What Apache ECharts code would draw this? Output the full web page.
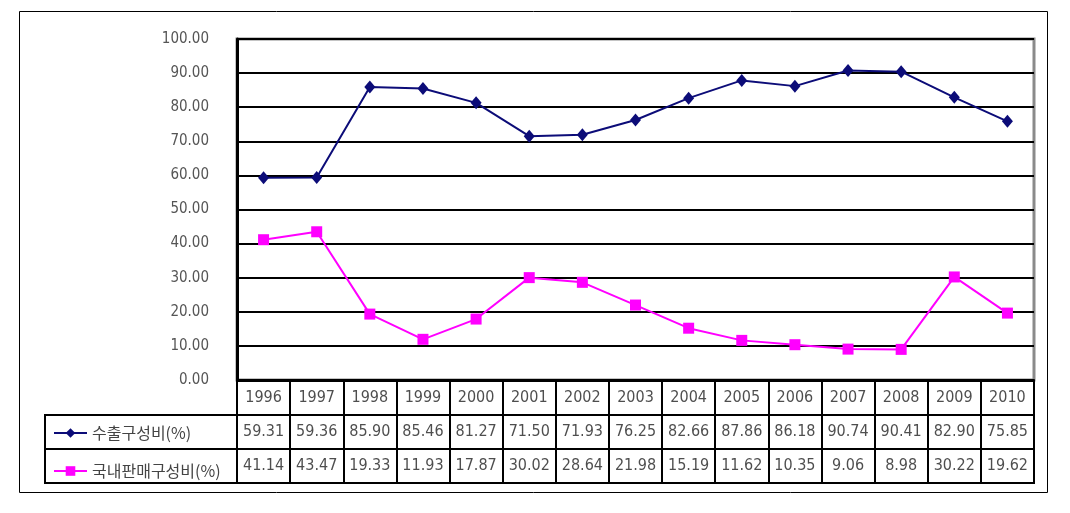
<!DOCTYPE html>
<html><head><meta charset="utf-8">
<script src="https://cdn.jsdelivr.net/npm/echarts@6/dist/echarts.min.js"></script>
<style>html,body{margin:0;padding:0;background:#fff}#c{width:1070px;height:513px}</style>
</head><body><div id="c"></div>
<script>
const years = ['1996','1997','1998','1999','2000','2001','2002','2003','2004','2005','2006','2007','2008','2009','2010'];
const exportShare = [59.31,59.36,85.90,85.46,81.27,71.50,71.93,76.25,82.66,87.86,86.18,90.74,90.41,82.90,75.85];
const domesticShare = [41.14,43.47,19.33,11.93,17.87,30.02,28.64,21.98,15.19,11.62,10.35,9.06,8.98,30.22,19.62];
const seriesNames = ['수출구성비(%)','국내판매구성비(%)'];
const yTicks = {min: 0, max: 100, interval: 10};

const NUMFONT = "'Liberation Sans Narrow','DejaVu Sans Condensed','Liberation Sans',sans-serif";
const tableText = [];
years.forEach((y, i) => {
  tableText.push([i, 0, y]);
  tableText.push([i, 1, exportShare[i].toFixed(2)]);
  tableText.push([i, 2, domesticShare[i].toFixed(2)]);
});

const chart = echarts.init(document.getElementById('c'), null, {renderer: 'canvas'});
chart.setOption({
  animation: false,
  backgroundColor: '#fff',
  grid: [
    {left: 237, top: 39, width: 797, height: 341, show: true, borderColor: '#8a8a8a', borderWidth: 3, containLabel: false},
    {left: 237, top: 381, width: 797, height: 102, show: true, borderColor: '#000', borderWidth: 2, containLabel: false}
  ],
  xAxis: [
    {type: 'category', gridIndex: 0, data: years, boundaryGap: true,
     axisLine: {show: true, lineStyle: {color: '#000', width: 2}}, axisTick: {show: false}, axisLabel: {show: false}, splitLine: {show: false}},
    {type: 'category', gridIndex: 1, data: years, boundaryGap: true,
     axisLine: {show: false}, axisTick: {show: false}, axisLabel: {show: false},
     splitLine: {show: true, interval: 0, lineStyle: {color: '#000', width: 2}}}
  ],
  yAxis: [
    {type: 'value', gridIndex: 0, min: yTicks.min, max: yTicks.max, interval: yTicks.interval,
     axisLine: {show: true, lineStyle: {color: '#000', width: 3}}, axisTick: {show: false},
     axisLabel: {margin: 28, color: '#555', fontSize: 15, fontFamily: NUMFONT, formatter: v => v.toFixed(2)},
     splitLine: {show: true, lineStyle: {color: '#000', width: 2}}},
    {type: 'category', gridIndex: 1, data: ['y','a','b'], inverse: true, boundaryGap: true,
     axisLine: {show: false}, axisTick: {show: false}, axisLabel: {show: false},
     splitLine: {show: true, interval: 0, lineStyle: {color: '#000', width: 2}}}
  ],
  legend: {
    orient: 'vertical', left: 48, top: 420, itemWidth: 33, itemHeight: 12, itemGap: 22,
    textStyle: {fontFamily: "'Noto Sans CJK KR',sans-serif", fontSize: 16, color: '#444', lineHeight: 12},
    data: seriesNames
  },
  series: [
    {name: seriesNames[0], type: 'line', xAxisIndex: 0, yAxisIndex: 0, data: exportShare,
     symbol: 'diamond', symbolSize: [11, 13], color: '#0c0c78',
     lineStyle: {color: '#0c0c78', width: 2}, itemStyle: {color: '#0c0c78'}},
    {name: seriesNames[1], type: 'line', xAxisIndex: 0, yAxisIndex: 0, data: domesticShare,
     symbol: 'rect', symbolSize: 11, color: '#ff00ff',
     lineStyle: {color: '#ff00ff', width: 2}, itemStyle: {color: '#ff00ff'}},
    {type: 'scatter', xAxisIndex: 1, yAxisIndex: 1, data: tableText, symbolSize: 1,
     itemStyle: {color: 'rgba(0,0,0,0)'}, silent: true,
     label: {show: true, position: 'inside', formatter: p => p.data[2], color: '#222', fontSize: 16, fontFamily: NUMFONT}}
  ],
  graphic: [
    {type: 'rect', shape: {x: 19.5, y: 11.5, width: 1028, height: 481}, style: {fill: 'none', stroke: '#000', lineWidth: 1}, z: -1},
    {type: 'rect', shape: {x: 45, y: 415, width: 192, height: 68}, style: {fill: 'none', stroke: '#000', lineWidth: 2}},
    {type: 'line', shape: {x1: 45, y1: 449, x2: 237, y2: 449}, style: {stroke: '#000', lineWidth: 2}}
  ]
});
</script></body></html>
